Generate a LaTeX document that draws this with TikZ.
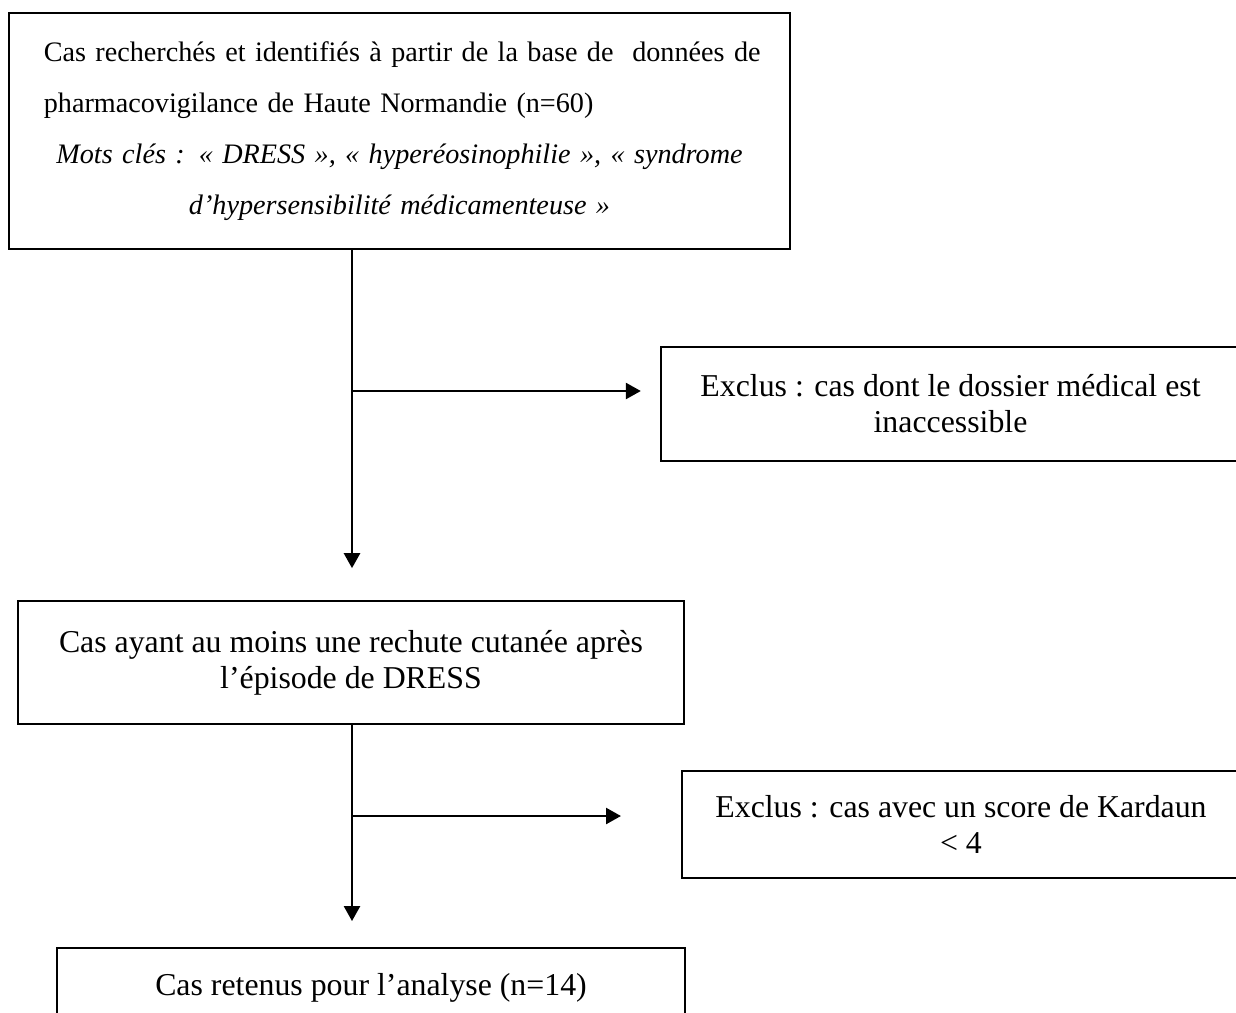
\documentclass[tikz,border=0pt]{standalone}
\usepackage{fontspec}
\setmainfont{Liberation Serif}
\usetikzlibrary{arrows.meta}
\begin{document}
\begin{tikzpicture}[x=0.44pt,y=-0.44pt,
    box/.style={draw,line width=0.9pt,inner sep=0pt,align=center,font=\fontsize{14}{15.8}\selectfont},
    flow/.style={line width=1.2pt,-{Triangle[length=6.6pt,width=7pt]}}]
  \useasboundingbox (0,0) rectangle (1236,1012);
  \clip (0,0) rectangle (1236,1012);
  % boxes
  \node[box,minimum width=343.6pt,minimum height=103.8pt,text width=313pt,font=\fontsize{12.4}{22.4}\selectfont] (search) at (399.5,131)
    {\leavevmode\hbox to 313pt{Cas recherchés et identifiés à partir de la base de\ \ données de}\\
     \leavevmode\hbox to 313pt{pharmacovigilance de Haute Normandie (n=60)\hfil}\\
     \textit{Mots clés : «~DRESS~», «~hyperéosinophilie~», «~syndrome}\\
     \textit{d’hypersensibilité médicamenteuse~»}};
  \node[box,minimum width=254.8pt,minimum height=50.2pt] (excl1) at (950.5,404)
    {Exclus : cas dont le dossier médical est\\ inaccessible};
  \node[box,minimum width=293pt,minimum height=54.1pt] (relapse) at (351,662.5)
    {Cas ayant au moins une rechute cutanée après\\ l’épisode de DRESS};
  \node[box,minimum width=245.5pt,minimum height=47.1pt] (excl2) at (961,824.5)
    {Exclus : cas avec un score de Kardaun\\ < 4};
  \node[box,minimum width=276.3pt,minimum height=35.2pt] (kept) at (371,988)
    {Cas retenus pour l’analyse (n=14)};
  % arrows
  \coordinate (j1) at (352,391);
  \coordinate (j2) at (352,816);
  \draw[flow,shorten >=14pt] (search.south -| j1) -- (j1) -- (j1 |- relapse.north);
  \draw[flow,shorten >=8.4pt] (j1) -- (j1 -| excl1.west);
  \draw[flow,shorten >=11.4pt] (relapse.south -| j2) -- (j2) -- (j2 |- kept.north);
  \draw[flow,shorten >=26.4pt] (j2) -- (j2 -| excl2.west);
\end{tikzpicture}
\end{document}
